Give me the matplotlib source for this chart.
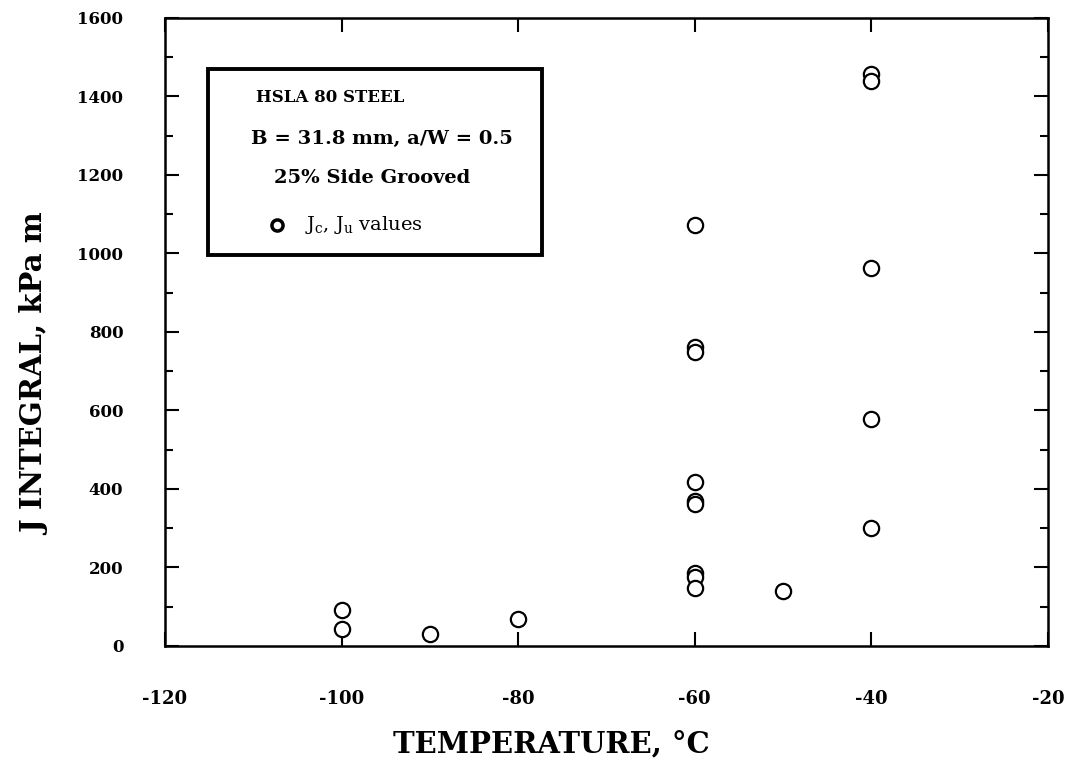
import matplotlib
matplotlib.use("Agg")
import matplotlib.pyplot as plt
from matplotlib.patches import Rectangle
from matplotlib.ticker import MultipleLocator

# Data: temperature (C) and J integral (kPa m)
temp = [-100, -100, -90, -80,
        -60, -60, -60, -60, -60, -60, -60, -60, -60,
        -50,
        -40, -40, -40, -40, -40]
j_val = [92, 43, 30, 68,
         1072, 762, 750, 418, 370, 362, 185, 175, 147,
         139,
         1456, 1440, 962, 577, 300]

plt.rcParams['font.family'] = ['DejaVu Serif']
plt.rcParams['font.weight'] = 'bold'
plt.rcParams['axes.unicode_minus'] = False

fig = plt.figure(figsize=(10.73, 7.68), dpi=100)
ax = fig.add_axes([0.1538, 0.1589, 0.8229, 0.8177])

ax.plot(temp, j_val, 'o', mfc='white', mec='black', ms=11, mew=1.6,
        linestyle='none', zorder=3)

ax.set_xlim(-120, -20)
ax.set_ylim(0, 1600)
ax.xaxis.set_major_locator(MultipleLocator(20))
ax.yaxis.set_major_locator(MultipleLocator(200))
ax.yaxis.set_minor_locator(MultipleLocator(100))
ax.tick_params(axis='both', which='both', direction='in', top=True, right=True,
               width=1.5, labelsize=12)
ax.tick_params(axis='x', labelsize=13)
ax.tick_params(axis='both', which='major', length=10)
ax.tick_params(axis='y', which='minor', length=6)
ax.tick_params(axis='x', pad=32)
ax.tick_params(axis='y', pad=30)
for lab in ax.get_xticklabels() + ax.get_yticklabels():
    lab.set_fontweight('bold')
for sp in ax.spines.values():
    sp.set_linewidth(1.8)

ax.set_xlabel("TEMPERATURE, °C", fontsize=21, fontweight='bold')
ax.set_ylabel("J INTEGRAL, kPa m", fontsize=21, fontweight='bold')
ax.xaxis.set_label_coords(0.437, -0.156)
ax.xaxis.label.set_va('center')
ax.yaxis.set_label_coords(-0.147, 0.432)
ax.yaxis.label.set_va('center')

# Legend box
box = Rectangle((0.0487, 0.622), 0.378, 0.297, transform=ax.transAxes,
                fill=True, facecolor='white', edgecolor='black', linewidth=2.8, zorder=4)
ax.add_patch(box)
ax.text(0.187, 0.873, "HSLA 80 STEEL", transform=ax.transAxes, fontsize=12,
        fontweight='bold', ha='center', va='center', zorder=5)
ax.text(0.246, 0.808, "B = 31.8 mm, a/W = 0.5", transform=ax.transAxes, fontsize=14,
        fontweight='bold', ha='center', va='center', zorder=5)
ax.text(0.235, 0.745, "25% Side Grooved", transform=ax.transAxes, fontsize=14,
        fontweight='bold', ha='center', va='center', zorder=5)
ax.plot([0.127], [0.670], 'o', transform=ax.transAxes, mfc='white', mec='black',
        ms=8, mew=2.5, zorder=5, clip_on=False)
ax.text(0.158, 0.670, r"J$_\mathregular{c}$, J$_\mathregular{u}$ values",
        transform=ax.transAxes, fontsize=14, ha='left', va='center', zorder=5,
        fontweight='normal')

fig.savefig("out.png", dpi=100)
